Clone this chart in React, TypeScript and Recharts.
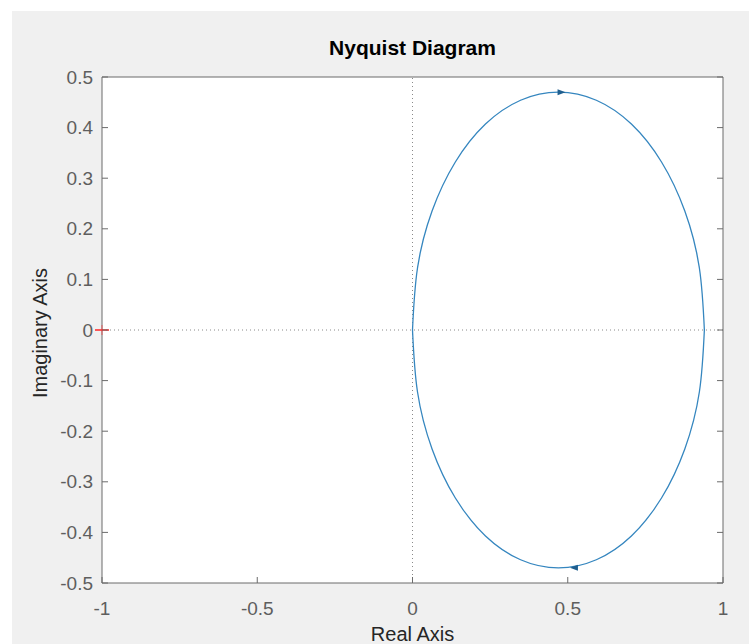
import React from 'react';
import { ComposedChart, Line, Scatter, XAxis, YAxis, ReferenceLine, CartesianGrid } from 'recharts';

// values (Nyquist plot, loop through 0 and ~0.94)
const realTicks = [-1, -0.5, 0, 0.5, 1];
const imagTicks = [-0.5, -0.4, -0.3, -0.2, -0.1, 0, 0.1, 0.2, 0.3, 0.4, 0.5];

const upperBranch = [
  { x: 0, y: 0 },
  { x: 0.016, y: 0.122 },
  { x: 0.063, y: 0.235 },
  { x: 0.138, y: 0.332 },
  { x: 0.235, y: 0.407 },
  { x: 0.348, y: 0.454 },
  { x: 0.47, y: 0.47 },
  { x: 0.592, y: 0.454 },
  { x: 0.705, y: 0.407 },
  { x: 0.802, y: 0.332 },
  { x: 0.877, y: 0.235 },
  { x: 0.924, y: 0.122 },
  { x: 0.94, y: 0 },
];

const lowerBranch = [
  { x: 0.94, y: 0 },
  { x: 0.924, y: -0.122 },
  { x: 0.877, y: -0.235 },
  { x: 0.802, y: -0.332 },
  { x: 0.705, y: -0.407 },
  { x: 0.592, y: -0.454 },
  { x: 0.47, y: -0.47 },
  { x: 0.348, y: -0.454 },
  { x: 0.235, y: -0.407 },
  { x: 0.138, y: -0.332 },
  { x: 0.063, y: -0.235 },
  { x: 0.016, y: -0.122 },
  { x: 0, y: 0 },
];

const arrowsRight = [{ x: 0.48, y: 0.47 }];
const arrowsLeft = [{ x: 0.52, y: -0.47 }];
const criticalPoint = [{ x: -1, y: 0 }];

const W = 737;
const H = 633;
// axes are 1px thick boxes, so the plot area sits 1px further in
const M = { top: 65, right: 25, bottom: 60, left: 89 };
const AXIS = '#6b6b6b';
const LABEL = '#5e5e5e';
const CURVE = '#3586bf';
const FONT = '"Liberation Sans", Arial, sans-serif';

const BottomTick = (props: any) => {
  const { x, y, payload } = props;
  return (
    <g>
      <line x1={x} x2={x} y1={y} y2={y - 6} stroke={AXIS} />
      <text x={x} y={y + 32} textAnchor="middle" fill={LABEL} fontSize={19} fontFamily={FONT}>
        {String(payload.value)}
      </text>
    </g>
  );
};

const TopTick = (props: any) => {
  const { x, y } = props;
  return <line x1={x} x2={x} y1={y} y2={y + 6} stroke={AXIS} />;
};

const LeftTick = (props: any) => {
  const { x, y, payload } = props;
  return (
    <g>
      <line x1={x} x2={x + 6} y1={y} y2={y} stroke={AXIS} />
      <text x={x - 9} y={y} dy="0.35em" textAnchor="end" fill={LABEL} fontSize={19} fontFamily={FONT}>
        {String(payload.value)}
      </text>
    </g>
  );
};

const RightTick = (props: any) => {
  const { x, y } = props;
  return <line x1={x} x2={x - 6} y1={y} y2={y} stroke={AXIS} />;
};

const Arrow = (dir: number) => (props: any) => {
  const { cx, cy } = props;
  const s = 4;
  return (
    <path
      d={`M${cx + dir * s},${cy} L${cx - dir * s},${cy - 3} L${cx - dir * s},${cy + 3} Z`}
      fill="#1f5f8f"
    />
  );
};

const RedPlus = (props: any) => {
  const { cx, cy } = props;
  return (
    <g stroke="#ff3030" strokeWidth={1.6}>
      <line x1={cx - 7} x2={cx + 7} y1={cy} y2={cy} />
      <line x1={cx} x2={cx} y1={cy - 5} y2={cy + 5} strokeOpacity={0.4} />
    </g>
  );
};

export default function App() {
  const plotCx = M.left + 1 + (W - M.left - M.right - 2) / 2;
  return (
    <div style={{ position: 'fixed', left: 12, top: 11, width: W, height: H, background: '#f0f0f0' }}>
      <ComposedChart width={W} height={H} margin={M}>
        <CartesianGrid horizontal={false} vertical={false} fill="#ffffff" />
        <XAxis
          type="number"
          dataKey="x"
          domain={[-1, 1]}
          ticks={realTicks}
          interval={0}
          height={1}
          tickSize={0}
          tickMargin={0}
          tickLine={false}
          axisLine={{ stroke: AXIS }}
          tick={<BottomTick />}
        />
        <XAxis
          xAxisId="top"
          orientation="top"
          type="number"
          domain={[-1, 1]}
          ticks={realTicks}
          interval={0}
          allowDataOverflow
          height={1}
          tickSize={0}
          tickMargin={0}
          tickLine={false}
          axisLine={{ stroke: AXIS }}
          tick={<TopTick />}
        />
        <YAxis
          type="number"
          dataKey="y"
          domain={[-0.5, 0.5]}
          ticks={imagTicks}
          interval={0}
          width={1}
          tickSize={0}
          tickMargin={0}
          tickLine={false}
          axisLine={{ stroke: AXIS }}
          tick={<LeftTick />}
        />
        <YAxis
          yAxisId="right"
          orientation="right"
          type="number"
          domain={[-0.5, 0.5]}
          ticks={imagTicks}
          interval={0}
          allowDataOverflow
          width={1}
          tickSize={0}
          tickMargin={0}
          tickLine={false}
          axisLine={{ stroke: AXIS }}
          tick={<RightTick />}
        />
        <ReferenceLine x={0} stroke="#8a8a8a" strokeDasharray="1 3" />
        <ReferenceLine y={0} stroke="#8a8a8a" strokeDasharray="1 3" />
        <Line data={upperBranch} dataKey="y" type="natural" stroke={CURVE} strokeWidth={1.3} dot={false} isAnimationActive={false} />
        <Line data={lowerBranch} dataKey="y" type="natural" stroke={CURVE} strokeWidth={1.3} dot={false} isAnimationActive={false} />
        <Scatter data={arrowsRight} dataKey="y" shape={Arrow(1)} isAnimationActive={false} />
        <Scatter data={arrowsLeft} dataKey="y" shape={Arrow(-1)} isAnimationActive={false} />
        <Scatter data={criticalPoint} dataKey="y" shape={RedPlus} isAnimationActive={false} />
      </ComposedChart>
      <svg width={W} height={H} style={{ position: 'absolute', left: 0, top: 0, pointerEvents: 'none' }}>
        <text x={plotCx} y={44} textAnchor="middle" fontSize={21} fontWeight="bold" fill="#000" fontFamily={FONT}>
          Nyquist Diagram
        </text>
        <text x={plotCx} y={630} textAnchor="middle" fontSize={20} fill="#262626" fontFamily={FONT}>
          Real Axis
        </text>
        <text
          x={34.5}
          y={322}
          textAnchor="middle"
          fontSize={20}
          fill="#262626"
          fontFamily={FONT}
          transform="rotate(-90 34.5 322)"
        >
          Imaginary Axis
        </text>
      </svg>
    </div>
  );
}
